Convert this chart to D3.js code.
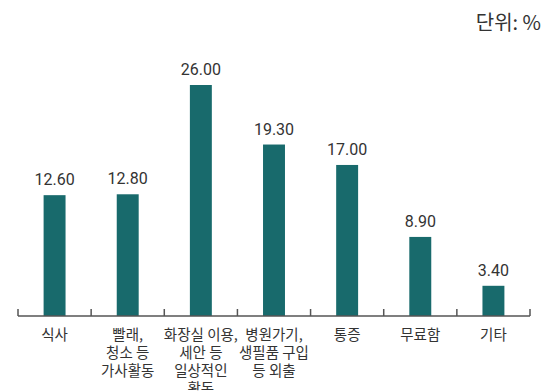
<!DOCTYPE html>
<html>
<head>
<meta charset="utf-8">
<script src="https://cdn.jsdelivr.net/npm/d3@7"></script>
<style>
  body { margin: 0; background: #fff; }
  svg { display: block; }
</style>
</head>
<body>
<div id="chart"></div>
<script>
// categories (line breaks as drawn)
const categories = [
  "식사",
  "빨래,\n청소 등\n가사활동",
  "화장실 이용,\n세안 등\n일상적인\n활동",
  "병원가기,\n생필품 구입\n등 외출",
  "통증",
  "무료함",
  "기타"
];
// bar heights
const values = [13.6, 13.7, 26.0, 19.3, 17.0, 8.9, 3.4];
// value labels as printed
const valueLabels = ["12.60", "12.80", "26.00", "19.30", "17.00", "8.90", "3.40"];
const unitLabel = "단위: %";

const width = 558, height = 391;
const margin = { top: 85, right: 28, bottom: 75, left: 18 };
const barColor = "#186a6c";

const svg = d3.select("#chart").append("svg")
  .attr("width", width)
  .attr("height", height);

const x = d3.scaleBand()
  .domain(categories)
  .range([margin.left, width - margin.right])
  .padding(0);

const y = d3.scaleLinear()
  .domain([0, d3.max(values)])
  .range([height - margin.bottom, margin.top]);

const barW = x.bandwidth() * 0.3;
const data = categories.map((c, i) => ({ c, v: values[i], label: valueLabels[i] }));

// bars
svg.selectAll("rect.bar")
  .data(data)
  .enter()
  .append("rect")
  .attr("class", "bar")
  .attr("x", d => x(d.c) + x.bandwidth() / 2 - barW / 2)
  .attr("y", d => y(d.v))
  .attr("width", barW)
  .attr("height", d => y(0) - y(d.v))
  .attr("fill", barColor);

// value labels
svg.selectAll("text.val")
  .data(data)
  .enter()
  .append("text")
  .attr("class", "val")
  .attr("x", d => x(d.c) + x.bandwidth() / 2)
  .attr("y", d => y(d.v) - 10)
  .attr("text-anchor", "middle")
  .style("font-family", "Roboto, 'Noto Sans', sans-serif")
  .style("font-size", "16px")
  .style("fill", "#333")
  .text(d => d.label);

// x axis: baseline with ticks at band edges, pointing up
const axisY = y(0);
const axis = svg.append("g");
axis.append("line")
  .attr("x1", margin.left)
  .attr("x2", width - margin.right)
  .attr("y1", axisY)
  .attr("y2", axisY)
  .attr("stroke", "#555")
  .attr("stroke-width", 1.5);

const edges = categories.map(c => x(c)).concat([x(categories[categories.length - 1]) + x.bandwidth()]);
axis.selectAll("line.tick")
  .data(edges)
  .enter()
  .append("line")
  .attr("class", "tick")
  .attr("x1", d => d)
  .attr("x2", d => d)
  .attr("y1", axisY)
  .attr("y2", axisY - 7)
  .attr("stroke", "#555")
  .attr("stroke-width", 1.5);

// category labels
const catText = svg.selectAll("text.cat")
  .data(data)
  .enter()
  .append("text")
  .attr("class", "cat")
  .attr("x", d => x(d.c) + x.bandwidth() / 2)
  .attr("y", axisY + 24)
  .attr("text-anchor", "middle")
  .style("font-family", "'Noto Sans CJK KR', 'Noto Sans', sans-serif")
  .style("font-size", "14.5px")
  .style("fill", "#333");

catText.each(function(d) {
  const t = d3.select(this);
  d.c.split("\n").forEach((line, i) => {
    t.append("tspan")
      .attr("x", x(d.c) + x.bandwidth() / 2)
      .attr("dy", i === 0 ? 0 : 18)
      .text(line);
  });
});

// unit label
svg.append("text")
  .attr("x", 541)
  .attr("y", 30)
  .attr("text-anchor", "end")
  .style("font-family", "'Noto Sans CJK KR', 'Noto Sans', sans-serif")
  .style("font-size", "20px")
  .style("fill", "#333")
  .text(unitLabel);
</script>
</body>
</html>
